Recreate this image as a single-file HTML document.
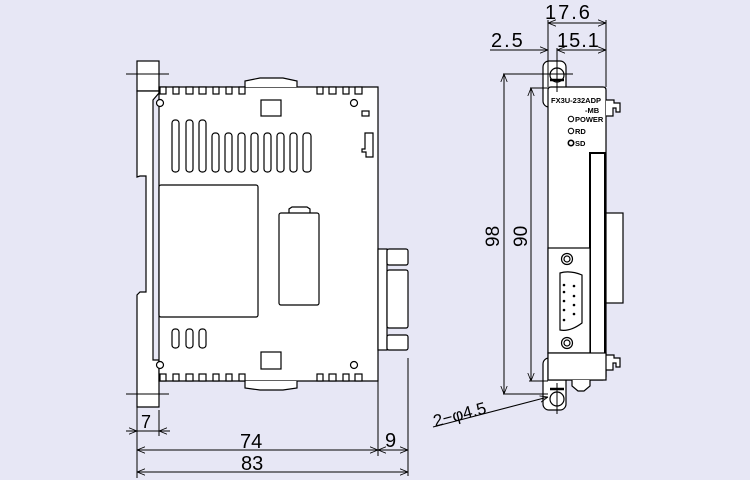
<!DOCTYPE html>
<html><head><meta charset="utf-8"><style>
html,body{margin:0;padding:0;background:#e7e7f5;}
svg{display:block}
text{font-family:"Liberation Sans",sans-serif;fill:#000}
</style></head><body>
<svg width="750" height="480" viewBox="0 0 750 480" xmlns="http://www.w3.org/2000/svg">
<defs>
<marker id="a" viewBox="0 0 10 10" refX="10" refY="5" markerWidth="8" markerHeight="8" orient="auto-start-reverse" markerUnits="userSpaceOnUse"><path d="M0,1 L10,5 L0,9" fill="none" stroke="#000" stroke-width="1"/></marker>
</defs>
<g fill="#fff" stroke="#000" stroke-width="1.2">
<!-- LEFT VIEW -->
<rect x="137" y="61" width="22" height="30"/>
<path d="M137,91 V177 L140,176 H146 V292 L140,292 L137,295 V407 H159 V360 L153,360 V100 L159,93 V91 Z"/>
<path d="M159,87 H378 V381 H159 Z"/>
<path d="M245,87 V81 L260,78 H283 L297,81 V87" />
<path d="M245,381 V388 L260,390 H283 L297,388 V381" />
<g>
<rect x="160" y="87" width="6" height="7"/><rect x="173" y="87" width="6" height="7"/><rect x="186" y="87" width="7" height="7"/><rect x="199" y="87" width="7" height="7"/><rect x="213" y="87" width="6" height="7"/><rect x="226" y="87" width="6" height="7"/><rect x="239" y="87" width="6" height="7"/>
<rect x="317" y="87" width="6" height="7"/><rect x="329" y="87" width="7" height="7"/><rect x="343" y="87" width="6" height="7"/><rect x="355" y="87" width="7" height="7"/>
<rect x="160" y="374" width="6" height="7"/><rect x="173" y="374" width="6" height="7"/><rect x="186" y="374" width="7" height="7"/><rect x="199" y="374" width="7" height="7"/><rect x="213" y="374" width="6" height="7"/><rect x="226" y="374" width="6" height="7"/><rect x="239" y="374" width="6" height="7"/>
<rect x="317" y="374" width="6" height="7"/><rect x="329" y="374" width="7" height="7"/><rect x="343" y="374" width="6" height="7"/><rect x="355" y="374" width="7" height="7"/>
</g>
<circle cx="160" cy="103" r="3.5"/><circle cx="354" cy="103" r="3.5"/>
<circle cx="160" cy="365" r="3.5"/><circle cx="354" cy="365" r="3.5"/>
<rect x="261" y="100" width="20" height="16"/>
<rect x="261" y="352" width="20" height="17"/>
<rect x="362" y="111" width="7" height="5"/>
<path d="M365,133 H373 V157 H366 V152 H362 V149 H365 Z"/>
<g>
<rect x="172" y="120" width="7" height="52" rx="3"/><rect x="186" y="120" width="7" height="52" rx="3"/><rect x="199" y="120" width="7" height="52" rx="3"/>
<rect x="212" y="133" width="7" height="39" rx="3"/><rect x="225" y="133" width="7" height="39" rx="3"/><rect x="238" y="133" width="7" height="39" rx="3"/><rect x="251" y="133" width="7" height="39" rx="3"/><rect x="264" y="133" width="7" height="39" rx="3"/><rect x="277" y="133" width="7" height="39" rx="3"/><rect x="290" y="133" width="7" height="39" rx="3"/><rect x="303" y="133" width="8" height="39" rx="3"/>
<rect x="172" y="329" width="7" height="19" rx="3"/><rect x="186" y="329" width="7" height="19" rx="3"/><rect x="199" y="329" width="7" height="19" rx="3"/>
</g>
<rect x="159" y="185" width="99" height="132" rx="2"/>
<path d="M289,213 V209 L292,207 H307 L310,209 V213"/>
<rect x="279" y="213" width="40" height="92" rx="2"/>
<rect x="378" y="249" width="9" height="101"/>
<rect x="387" y="249" width="21" height="16" rx="2"/>
<rect x="387" y="270" width="21" height="58" rx="2"/>
<rect x="387" y="335" width="21" height="15" rx="2"/>
<!-- RIGHT VIEW -->
<rect x="543" y="61" width="23" height="46" rx="6"/>
<rect x="543" y="358" width="23" height="52" rx="6"/>
<path d="M548,380 V90 Q548,87 551,87 H603 Q606,87 606,90 V377 Q606,380 603,380 Z"/>
<path d="M606,100 H614 V103 H620 V112 H616 V108 H613 V116 H606"/>
<path d="M606,355 H614 V358 H620 V367 H616 V363 H613 V370 H606"/>
<rect x="606" y="213" width="17" height="90"/>
<rect x="590" y="153" width="15" height="202" stroke-width="2"/>
<rect x="548" y="248" width="42" height="105"/>
<rect x="548" y="353" width="58" height="27"/>
<path d="M572,380 V386 L578,391 H584 L590,386 V380"/>
<circle cx="567" cy="259" r="5.5"/><circle cx="567" cy="259" r="3"/>
<circle cx="567" cy="343" r="5.5"/><circle cx="567" cy="343" r="3"/>
<path d="M560,273 Q570,270 582,275 V323 Q570,332 560,330 Z"/>
<circle cx="557" cy="75" r="7"/>
<circle cx="557" cy="399" r="7"/>
</g>
<g stroke="#000" stroke-width="2.5">
<line x1="550" y1="80" x2="564" y2="80"/>
<line x1="550" y1="389" x2="564" y2="389"/>
</g>
<g fill="#000">
<circle cx="564" cy="285" r="1.3"/><circle cx="574" cy="286" r="1.3"/><circle cx="564" cy="292" r="1.3"/><circle cx="574" cy="296" r="1.3"/><circle cx="564" cy="301" r="1.3"/><circle cx="574" cy="305" r="1.3"/><circle cx="564" cy="310" r="1.3"/><circle cx="574" cy="314" r="1.3"/><circle cx="564" cy="320" r="1.3"/>
</g>
<g fill="none" stroke="#000" stroke-width="1">
<circle cx="571" cy="119" r="2.7"/><circle cx="571" cy="131" r="2.7"/><circle cx="571" cy="143" r="2.7" stroke-width="1.6"/>
<!-- centerlines / extension -->
<line x1="126" y1="74" x2="169" y2="74"/>
<line x1="126" y1="394" x2="169" y2="394"/>
<line x1="557" y1="48" x2="557" y2="92"/>
<line x1="557" y1="383" x2="557" y2="414"/>
<line x1="503" y1="74" x2="573" y2="74"/>
<line x1="530" y1="88" x2="548" y2="88"/>
<line x1="503" y1="394" x2="548" y2="394"/>
<line x1="529" y1="381" x2="548" y2="381"/>
<line x1="548" y1="20" x2="548" y2="87"/>
<line x1="606" y1="20" x2="606" y2="87"/>
<line x1="137" y1="407" x2="137" y2="478"/>
<line x1="159" y1="410" x2="159" y2="436"/>
<line x1="378" y1="381" x2="378" y2="456"/>
<line x1="408" y1="358" x2="408" y2="476"/>
<!-- dims -->
<line x1="126" y1="431" x2="137" y2="431" marker-end="url(#a)"/>
<line x1="170" y1="431" x2="159" y2="431" marker-end="url(#a)"/>
<line x1="137" y1="431" x2="159" y2="431"/>
<line x1="137" y1="450" x2="378" y2="450" marker-start="url(#a)" marker-end="url(#a)"/>
<line x1="378" y1="450" x2="408" y2="450" marker-start="url(#a)" marker-end="url(#a)"/>
<line x1="137" y1="472" x2="408" y2="472" marker-start="url(#a)" marker-end="url(#a)"/>
<line x1="548" y1="23" x2="606" y2="23" marker-start="url(#a)" marker-end="url(#a)"/>
<line x1="490" y1="50" x2="548" y2="50" marker-end="url(#a)"/>
<line x1="557" y1="50" x2="606" y2="50" marker-start="url(#a)" marker-end="url(#a)"/>
<line x1="504" y1="74" x2="504" y2="394" marker-start="url(#a)" marker-end="url(#a)"/>
<line x1="531" y1="88" x2="531" y2="381" marker-start="url(#a)" marker-end="url(#a)"/>
<line x1="433" y1="427" x2="548" y2="397" marker-end="url(#a)"/>
</g>
<g font-size="20">
<text x="141" y="428" font-size="18">7</text>
<text x="240" y="448">74</text>
<text x="385" y="447">9</text>
<text x="241" y="470">83</text>
<text x="545" y="19" letter-spacing="2">17.6</text>
<text x="491" y="47" letter-spacing="2">2.5</text>
<text x="557" y="47" letter-spacing="1">15.1</text>
<text transform="translate(499,247) rotate(-90)" font-size="19">98</text>
<text transform="translate(527,247) rotate(-90)" font-size="19">90</text>
<text transform="translate(435,427) rotate(-15)" font-size="17">2−φ4.5</text>
</g>
<g font-size="7.5" font-weight="bold">
<text x="551" y="103">FX3U-232ADP</text>
<text x="585" y="113">-MB</text>
<text x="575" y="122">POWER</text>
<text x="575" y="134">RD</text>
<text x="575" y="146">SD</text>
</g>
</svg>
</body></html>
